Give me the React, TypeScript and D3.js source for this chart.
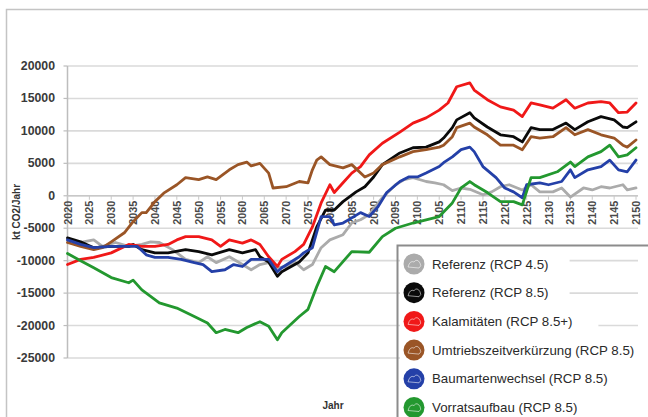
import React from "react";
import * as d3 from "d3";

const yearTicks = [2020, 2025, 2030, 2035, 2040, 2045, 2050, 2055, 2060, 2065, 2070, 2075, 2080, 2085, 2090, 2095, 2100, 2105, 2110, 2115, 2120, 2125, 2130, 2135, 2140, 2145, 2150];
const valueTicks = [20000, 15000, 10000, 5000, 0, -5000, -10000, -15000, -20000, -25000];

const grayYears = [2020, 2023, 2026, 2028, 2031, 2034, 2037, 2039, 2041, 2044, 2047, 2050, 2052, 2054, 2057, 2060, 2062, 2064, 2066, 2068, 2070, 2072, 2074, 2076, 2078, 2080, 2083, 2085, 2087, 2089, 2092, 2095, 2097, 2099, 2102, 2104, 2106, 2108, 2110, 2112, 2115, 2117, 2119, 2121, 2124, 2126, 2128, 2131, 2133, 2135, 2138, 2140, 2142, 2144, 2147, 2148, 2150];
const grayValues = [-6800, -7200, -6800, -7800, -7200, -7800, -7500, -7100, -7200, -8300, -9800, -10300, -9400, -10300, -9400, -10600, -11400, -10600, -10300, -11100, -10900, -10200, -11400, -10600, -8000, -6800, -6000, -4200, -3700, -2900, -300, 1700, 2500, 2800, 2200, 2000, 1700, 800, 1200, 1000, 150, 600, 1400, 1700, 900, 1700, 600, 600, 1200, -200, 1200, 900, 1400, 1200, 1700, 900, 1200];

const blackYears = [2020, 2023, 2026, 2030, 2034, 2035, 2037, 2040, 2043, 2047, 2050, 2053, 2057, 2060, 2063, 2064, 2066, 2068, 2069, 2073, 2075, 2077, 2079, 2081, 2083, 2086, 2088, 2090, 2092, 2096, 2099, 2102, 2105, 2106, 2108, 2109, 2112, 2113, 2116, 2119, 2122, 2124, 2126, 2128, 2131, 2134, 2136, 2139, 2142, 2145, 2147, 2148, 2150];
const blackValues = [-6500, -7100, -8000, -7800, -7800, -7500, -8300, -8800, -8800, -8300, -8600, -9100, -8300, -8800, -8300, -9400, -10200, -12400, -11700, -10200, -8800, -4800, -2200, -2200, -900, 600, 1400, 2900, 4800, 6600, 7400, 7500, 8300, 8900, 10500, 11700, 12800, 12000, 10600, 9400, 9100, 8300, 10500, 10200, 10200, 11200, 10200, 11400, 12200, 11700, 10600, 10500, 11400];

const redYears = [2020, 2023, 2026, 2030, 2034, 2037, 2040, 2043, 2045, 2047, 2050, 2053, 2055, 2057, 2060, 2062, 2064, 2066, 2068, 2069, 2072, 2074, 2076, 2078, 2080, 2081, 2083, 2085, 2087, 2089, 2092, 2096, 2099, 2102, 2105, 2107, 2109, 2112, 2113, 2116, 2119, 2122, 2124, 2126, 2128, 2131, 2134, 2136, 2139, 2142, 2144, 2146, 2148, 2150];
const redValues = [-10600, -9800, -9500, -8800, -7500, -7800, -7800, -7500, -6800, -6300, -6300, -6800, -7800, -6800, -7300, -6800, -7500, -9400, -10900, -9800, -8600, -7500, -4800, -1100, 1700, 500, 2000, 3500, 4500, 6300, 8100, 9800, 11200, 12000, 13200, 14300, 16800, 17400, 16300, 14800, 13700, 13200, 12200, 14300, 14000, 13500, 14800, 13500, 14300, 14500, 14300, 12800, 12900, 14300];

const brownYears = [2020, 2023, 2026, 2028, 2030, 2033, 2035, 2037, 2038, 2040, 2042, 2045, 2047, 2050, 2052, 2054, 2057, 2059, 2061, 2062, 2064, 2066, 2067, 2070, 2073, 2075, 2076, 2077, 2078, 2080, 2083, 2085, 2088, 2090, 2092, 2096, 2099, 2102, 2105, 2106, 2108, 2109, 2112, 2113, 2116, 2119, 2122, 2124, 2126, 2128, 2131, 2134, 2136, 2139, 2142, 2145, 2147, 2148, 2150];
const brownValues = [-7200, -7800, -8300, -8000, -7100, -5700, -4000, -2600, -2600, -900, 400, 1700, 2800, 2500, 2900, 2500, 4000, 4800, 5200, 4600, 5000, 3500, 1200, 1400, 2200, 2000, 4000, 5500, 6000, 4800, 4300, 4800, 2900, 3500, 4800, 6000, 6800, 7100, 7500, 7800, 9100, 10500, 11200, 10600, 9400, 7800, 7800, 7100, 9100, 8900, 9100, 10500, 9400, 10200, 9400, 8900, 7800, 7500, 8600];

const blueYears = [2020, 2023, 2026, 2030, 2034, 2036, 2038, 2040, 2043, 2046, 2049, 2051, 2053, 2056, 2058, 2060, 2062, 2064, 2066, 2068, 2069, 2073, 2074, 2076, 2078, 2080, 2081, 2083, 2085, 2087, 2089, 2091, 2093, 2096, 2098, 2100, 2102, 2105, 2106, 2108, 2110, 2112, 2113, 2115, 2118, 2120, 2122, 2124, 2125, 2128, 2130, 2133, 2135, 2136, 2139, 2142, 2144, 2146, 2148, 2150];
const blueValues = [-6800, -7500, -8000, -7800, -7800, -7800, -9100, -9500, -9500, -9800, -10300, -10600, -11700, -11400, -10600, -10900, -9800, -9800, -9800, -11700, -11100, -9400, -8800, -8000, -3200, -3200, -4500, -4200, -3400, -2600, -3200, -1700, 500, 2200, 2900, 2900, 3500, 4500, 5100, 6000, 7100, 7500, 6800, 4500, 2800, 1200, 600, -300, 1700, 2000, 1700, 2200, 4000, 2800, 4000, 4500, 5500, 4000, 3700, 5500];

const greenYears = [2020, 2023, 2026, 2030, 2034, 2035, 2037, 2041, 2045, 2049, 2052, 2054, 2056, 2059, 2061, 2064, 2066, 2068, 2069, 2073, 2075, 2077, 2079, 2081, 2085, 2089, 2092, 2095, 2099, 2102, 2105, 2108, 2110, 2112, 2113, 2116, 2119, 2122, 2124, 2126, 2128, 2132, 2135, 2136, 2139, 2142, 2144, 2146, 2148, 2150];
const greenValues = [-8900, -10000, -11100, -12600, -13400, -13000, -14500, -16500, -17300, -18600, -19600, -21100, -20600, -21100, -20300, -19400, -20100, -22200, -21100, -18600, -17500, -14000, -10900, -11700, -8600, -8700, -6300, -5000, -4200, -3700, -3200, -1100, 1200, 2200, 1700, 500, -900, -900, -1400, 2800, 2800, 3700, 5200, 4500, 6000, 6800, 7800, 6000, 6300, 7400];

const seriesNames = [
  "Referenz (RCP 4.5)",
  "Referenz (RCP 8.5)",
  "Kalamitäten (RCP 8.5+)",
  "Umtriebszeitverkürzung (RCP 8.5)",
  "Baumartenwechsel (RCP 8.5)",
  "Vorratsaufbau (RCP 8.5)",
];
const seriesColors = ["#ababab", "#0a0a0a", "#f01818", "#9a5526", "#2440a8", "#23982f"];
const seriesYears = [grayYears, blackYears, redYears, brownYears, blueYears, greenYears];
const seriesValues = [grayValues, blackValues, redValues, brownValues, blueValues, greenValues];

const W = 648;
const H = 417;

export default function App() {
  const x = d3.scaleLinear().domain([2020, 2150]).range([67.5, 636]);
  const y = d3.scaleLinear().domain([-25000, 20000]).range([358, 66]);
  const line = d3
    .line<[number, number]>()
    .x((d) => x(d[0]))
    .y((d) => y(d[1]))
    .curve(d3.curveLinear);

  const font = "Arial, 'Liberation Sans', sans-serif";
  const legendY = (i: number) => 264 + i * 28.7;

  return (
    <svg
      width={W}
      height={H}
      viewBox={`0 0 ${W} ${H}`}
      style={{ position: "absolute", left: 0, top: 0, background: "#fff" }}
    >
      <rect x={0} y={0} width={W} height={H} fill="#fff" />
      {/* outer frame */}
      <path d={`M6.5,${H + 2} V9.5 H${W + 2}`} fill="none" stroke="#c4c4c4" strokeWidth={1.5} />

      {/* gridlines */}
      {valueTicks.map((v) => (
        <line key={"g" + v} x1={x(2020)} x2={638} y1={y(v)} y2={y(v)} stroke="#dadada" strokeWidth={1.6} />
      ))}
      {/* y axis */}
      <line x1={x(2020)} x2={x(2020)} y1={y(20000)} y2={y(-25000)} stroke="#bdbdbd" strokeWidth={1.5} />
      {valueTicks.map((v) => (
        <line key={"t" + v} x1={x(2020) - 4} x2={x(2020)} y1={y(v)} y2={y(v)} stroke="#bdbdbd" strokeWidth={1.2} />
      ))}
      {valueTicks.map((v) => (
        <text
          key={"l" + v}
          x={55}
          y={y(v)}
          textAnchor="end"
          dominantBaseline="central"
          fontFamily={font}
          fontWeight="bold"
          fontSize={12.3}
          fill="#3a3a3a"
        >
          {v}
        </text>
      ))}
      {/* x axis at zero */}
      <line x1={x(2020)} x2={638} y1={y(0)} y2={y(0)} stroke="#c8c8c8" strokeWidth={1.5} />
      {yearTicks.map((t) => (
        <line key={"xt" + t} x1={x(t)} x2={x(t)} y1={y(0)} y2={y(0) + 4} stroke="#c8c8c8" strokeWidth={1} />
      ))}
      {yearTicks.map((t) => (
        <text
          key={"xl" + t}
          transform={`translate(${x(t)},${y(0) + 5}) rotate(-90)`}
          textAnchor="end"
          dominantBaseline="central"
          fontFamily={font}
          fontWeight="bold"
          fontSize={10.8}
          fill="#4a4a4a"
        >
          {t}
        </text>
      ))}

      {/* axis titles */}
      <text
        transform={`translate(16,212) rotate(-90)`}
        textAnchor="middle"
        dominantBaseline="central"
        fontFamily={font}
        fontWeight="bold"
        fontSize={10}
        fill="#333"
      >
        kt CO2/Jahr
      </text>
      <text x={333} y={405} textAnchor="middle" dominantBaseline="central" fontFamily={font} fontWeight="bold" fontSize={10} fill="#333">
        Jahr
      </text>

      {/* series */}
      {seriesNames.map((name, i) => {
        const pts = seriesYears[i].map((yr, j) => [yr, seriesValues[i][j]] as [number, number]);
        return (
          <path
            key={name}
            d={line(pts) || ""}
            fill="none"
            stroke={seriesColors[i]}
            strokeWidth={2.8}
            strokeLinejoin="round"
            strokeLinecap="round"
          />
        );
      })}

      {/* legend */}
      <path d={`M397.5,${H + 2} V245.5 H${W + 2}`} fill="none" stroke="#8c8c8c" strokeWidth={2} />
      {seriesNames.map((name, i) => (
        <g key={"lg" + name}>
          <rect x={400} y={legendY(i) - 12} width={name.length * 7.2 + 40} height={24} fill="#fff" />
          <circle cx={414} cy={legendY(i)} r={10.5} fill={seriesColors[i]} />
          <path
            d={`M408,${legendY(i) + 3} q2,-7 6,-5 q3,-4 6,1 q2,3 -1,5 z`}
            fill="none"
            stroke="rgba(255,255,255,0.55)"
            strokeWidth={1}
          />
          <text
            x={432}
            y={legendY(i)}
            dominantBaseline="central"
            fontFamily={font}
            fontSize={13.3}
            fill="#2a2a2a"
          >
            {name}
          </text>
        </g>
      ))}
    </svg>
  );
}
